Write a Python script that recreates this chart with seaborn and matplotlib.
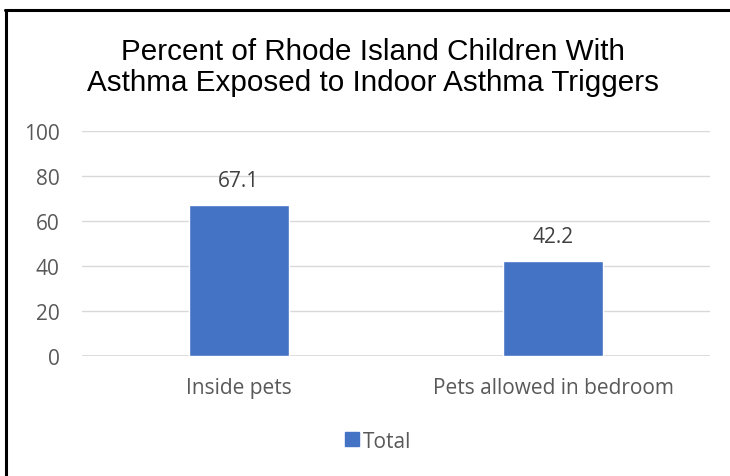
import matplotlib
matplotlib.use("Agg")
import matplotlib.pyplot as plt
import matplotlib.lines as mlines
import seaborn as sns
import pandas as pd

categories = ["Inside pets", "Pets allowed in bedroom"]
values = [67.1, 42.2]
series_name = "Total"
y_ticks = [0, 20, 40, 60, 80, 100]

sns.set_theme(style="white")
plt.rcParams["font.family"] = ["Open Sans", "DejaVu Sans"]

df = pd.DataFrame({"category": categories, "value": values})

fig = plt.figure(figsize=(7.3, 4.77), dpi=100)
ax = fig.add_axes([0.1123, 0.2516, 0.8603, 0.4717])

bar_color = "#4472C4"
sns.barplot(data=df, x="category", y="value", color=bar_color, width=0.318,
            saturation=1, ax=ax)

ax.set_ylim(0, 100)
ax.set_xlim(-0.5, 1.5)
ax.set_yticks(y_ticks)
ax.yaxis.grid(True, color="#D9D9D9", linewidth=1)
ax.set_axisbelow(True)
for s in ["top", "right", "left", "bottom"]:
    ax.spines[s].set_visible(False)
ax.axhline(0, color="#D9D9D9", linewidth=1.2, zorder=0.5)
ax.set_xlabel("")
ax.set_ylabel("")
ax.tick_params(axis="both", length=0, labelsize=15, colors="#595959")
ax.tick_params(axis="y", pad=16)
ax.tick_params(axis="x", pad=15)

for c in ax.containers:
    ax.bar_label(c, labels=[f"{v:.1f}" for v in values], padding=10,
                 fontsize=15, color="#404040")

fig.text(0.511, 0.859, "Percent of Rhode Island Children With\nAsthma Exposed to Indoor Asthma Triggers",
         ha="center", va="center", fontsize=21.3, family="Liberation Sans",
         color="black", linespacing=1.15)

handle = mlines.Line2D([], [], marker="s", linestyle="none", markersize=9.5,
                       color=bar_color)
fig.legend([handle], [series_name], loc="center", bbox_to_anchor=(0.516, 0.073),
           frameon=False, fontsize=15, labelcolor="#595959",
           handletextpad=0.0, handlelength=1.0)

# outer frame: left and top edges
fig.add_artist(mlines.Line2D([0.0082, 0.0082], [0.0, 0.977], color="black",
                             linewidth=2.2, transform=fig.transFigure))
fig.add_artist(mlines.Line2D([0.0068, 1.0], [0.977, 0.977], color="black",
                             linewidth=2.2, transform=fig.transFigure))

fig.savefig("out.png", dpi=100)
